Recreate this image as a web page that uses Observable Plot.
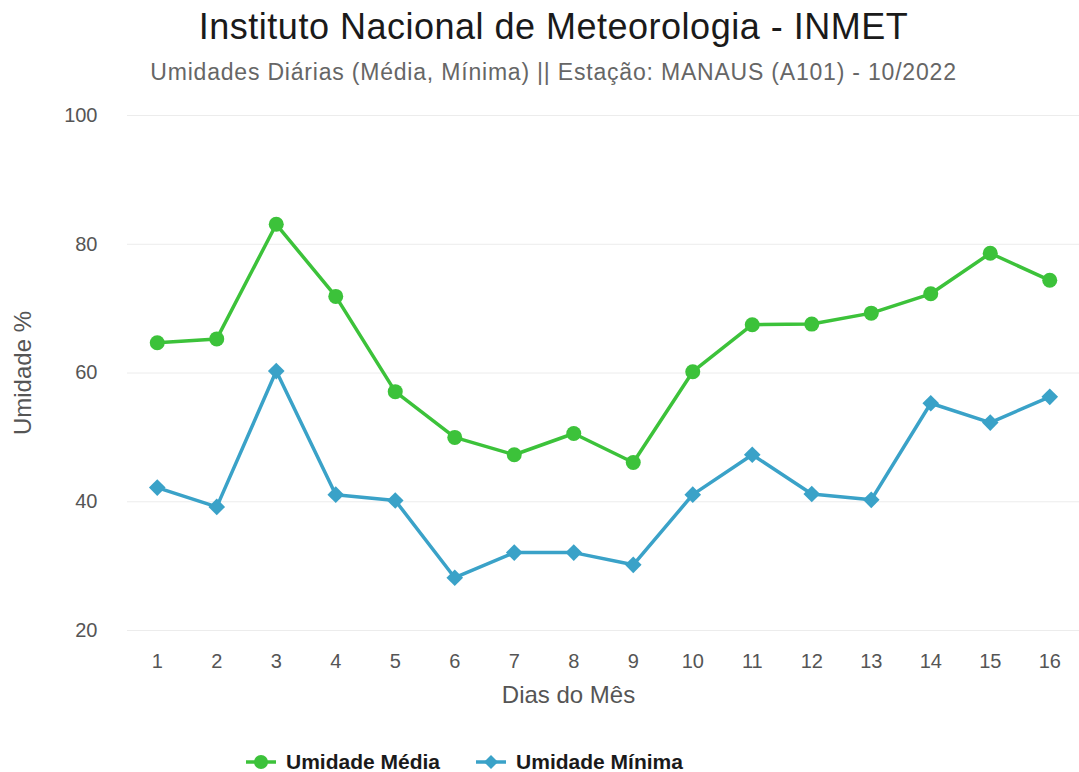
<!DOCTYPE html>
<html>
<head>
<meta charset="utf-8">
<script src="https://cdn.jsdelivr.net/npm/d3@7"></script>
<script src="https://cdn.jsdelivr.net/npm/@observablehq/plot@0.6"></script>
<style>
  html, body { margin: 0; padding: 0; background: #fff; overflow: hidden; }
  #wrap { position: relative; width: 1079px; height: 772px; font-family: "Liberation Sans", Arial, sans-serif; }
  .title { position: absolute; left: 0; width: 1079px; box-sizing: border-box; padding-left: 28px; text-align: center; white-space: nowrap; }
  #t1 { top: 9px; font-size: 36px; line-height: 36px; letter-spacing: 0.5px; color: #1a1a1a; }
  #t2 { top: 61px; font-size: 23px; line-height: 23px; letter-spacing: 0.8px; color: #666; }
  #chart { position: absolute; left: 0; top: 95px; }
  #legend { position: absolute; left: 246px; top: 750px; display: flex; align-items: center; font-weight: bold; font-size: 21px; line-height: 24px; color: #1a1a1a; }
  .item { display: flex; align-items: center; margin-right: 36px; }
  .item svg { margin-right: 10px; }
</style>
</head>
<body>
<div id="wrap">
  <div class="title" id="t1"></div>
  <div class="title" id="t2"></div>
  <div id="chart"></div>
  <div id="legend"></div>
</div>
<script>
const titulo = "Instituto Nacional de Meteorologia - INMET";
const subtitulo = "Umidades Diárias (Média, Mínima) || Estação: MANAUS (A101) - 10/2022";
const rotuloX = "Dias do Mês";
const rotuloY = "Umidade %";
const series = ["Umidade Média", "Umidade Mínima"];
const cores = ["#3cc23a", "#3aa2c8"];
const dias = [1, 2, 3, 4, 5, 6, 7, 8, 9, 10, 11, 12, 13, 14, 15, 16];
const media = [64.7, 65.3, 83.1, 71.9, 57.1, 50.0, 47.3, 50.6, 46.1, 60.2, 67.5, 67.6, 69.3, 72.3, 78.6, 74.4];
const minima = [42.2, 39.2, 60.3, 41.1, 40.2, 28.2, 32.1, 32.1, 30.2, 41.1, 47.3, 41.2, 40.3, 55.3, 52.3, 56.3];
const yTicks = [20, 40, 60, 80, 100];

document.getElementById("t1").textContent = titulo;
document.getElementById("t2").textContent = subtitulo;

const dados = [
  ...dias.map((d, i) => ({dia: d, valor: media[i], serie: series[0]})),
  ...dias.map((d, i) => ({dia: d, valor: minima[i], serie: series[1]}))
];
const dMedia = dados.filter(d => d.serie === series[0]);
const dMinima = dados.filter(d => d.serie === series[1]);

const plot = Plot.plot({
  width: 1079,
  height: 620,
  marginLeft: 127,
  marginRight: 0,
  marginTop: 20,
  marginBottom: 85,
  style: {fontFamily: "'Liberation Sans', Arial, sans-serif", color: "#555", background: "transparent"},
  x: {type: "point", domain: dias, padding: 0.5, round: false, label: null},
  y: {domain: [20, 100], label: null},
  color: {domain: series, range: cores},
  marks: [
    Plot.ruleY(yTicks, {stroke: "#ececec", strokeWidth: 1}),
    Plot.axisY(yTicks, {tickSize: 0, tickPadding: 30, fontSize: 20, label: null}),
    Plot.axisX({tickSize: 0, tickPadding: 23, fontSize: 20, label: null}),
    Plot.text([rotuloY], {text: d => d, frameAnchor: "left", textAnchor: "middle", dx: -104, rotate: -90, fontSize: 24, fill: "#555"}),
    Plot.text([rotuloX], {text: d => d, frameAnchor: "bottom", textAnchor: "middle", dx: -35, dy: 72, fontSize: 24, fill: "#555"}),
    Plot.line(dados, {x: "dia", y: "valor", z: "serie", stroke: "serie", strokeWidth: 3.5, strokeLinejoin: "round"}),
    Plot.dot(dMedia, {x: "dia", y: "valor", fill: "serie", r: 7.5, stroke: "none"}),
    Plot.dot(dMinima, {x: "dia", y: "valor", fill: "serie", r: 7.5, symbol: "diamond2", stroke: "none"})
  ]
});
document.getElementById("chart").appendChild(plot);

const legend = document.getElementById("legend");
series.forEach((s, i) => {
  const item = document.createElement("div");
  item.className = "item";
  const marker = i === 0
    ? `<circle cx="15" cy="12" r="7" fill="${cores[i]}"/>`
    : `<path d="M15,5 L22,12 L15,19 L8,12 Z" fill="${cores[i]}"/>`;
  item.innerHTML = `<svg width="30" height="24"><line x1="0" x2="30" y1="12" y2="12" stroke="${cores[i]}" stroke-width="3.5"/>${marker}</svg><span></span>`;
  item.querySelector("span").textContent = s;
  legend.appendChild(item);
});
</script>
</body>
</html>
